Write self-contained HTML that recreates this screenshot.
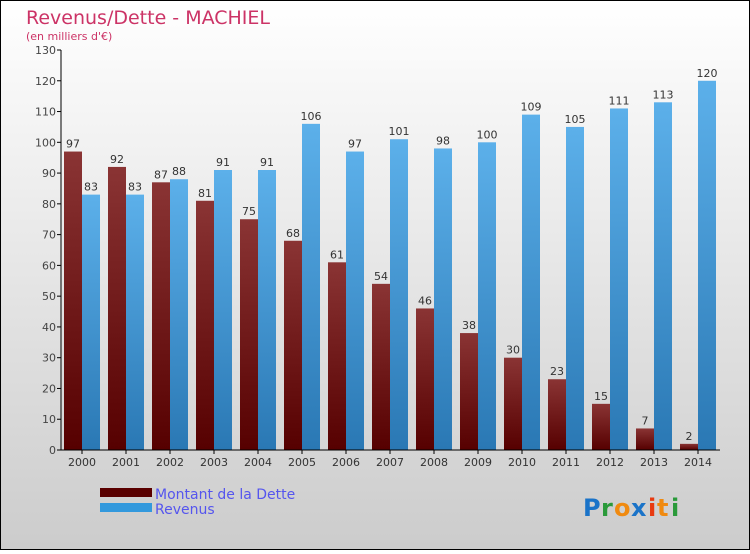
<!DOCTYPE html>
<html><head><meta charset="utf-8"><style>
body{margin:0}
#c{width:750px;height:550px;position:relative;font-family:"DejaVu Sans","Liberation Sans",sans-serif}
</style></head><body>
<div id="c">
<svg id="s" width="750" height="550" xmlns="http://www.w3.org/2000/svg">
<defs>
<linearGradient id="bg" x1="0" y1="0" x2="0" y2="1"><stop offset="0" stop-color="#ffffff"/><stop offset="1" stop-color="#cccccc"/></linearGradient>
<linearGradient id="gd" x1="0" y1="0" x2="0" y2="1"><stop offset="0" stop-color="#8a3434"/><stop offset="1" stop-color="#560000"/></linearGradient>
<linearGradient id="gr" x1="0" y1="0" x2="0" y2="1"><stop offset="0" stop-color="#5cb0ea"/><stop offset="1" stop-color="#2a78b4"/></linearGradient>
</defs>
<rect x="0.5" y="0.5" width="749" height="549" fill="url(#bg)" stroke="#000"/>
<text x="26" y="24" font-size="19" fill="#cc3366">Revenus/Dette - MACHIEL</text>
<text x="26" y="40" font-size="11" fill="#cc3366">(en milliers d'€)</text>
<g id="plot"></g>
<rect x="100" y="488" width="52" height="9" fill="#5a0000"/>
<text x="155" y="499" font-size="14" fill="#5555ee">Montant de la Dette</text>
<rect x="100" y="503" width="52" height="9" fill="#3399dd"/>
<text x="155" y="514" font-size="14" fill="#5555ee">Revenus</text>
<g font-size="24" font-weight="bold">
<text x="583" y="516" fill="#1a73c8">P</text><text x="601" y="516" fill="#2a9a3a">r</text><text x="614" y="516" fill="#f08a10">o</text><text x="631" y="516" fill="#1a73c8">x</text><text x="648" y="516" fill="#e83a10">i</text><text x="657" y="516" fill="#f08a10">t</text><text x="671" y="516" fill="#2a9a3a">i</text>
</g>
</svg>
</div>
<script>
const years=["2000","2001","2002","2003","2004","2005","2006","2007","2008","2009","2010","2011","2012","2013","2014"];
const dette=[97,92,87,81,75,68,61,54,46,38,30,23,15,7,2];
const revenus=[83,83,88,91,91,106,97,101,98,100,109,105,111,113,120];
const yTicks=[0,10,20,30,40,50,60,70,80,90,100,110,120,130];
const NS="http://www.w3.org/2000/svg";
const g=document.getElementById('plot');
const x0=61,step=44,y0=450,yTop=50,yMax=130;
const y=v=>y0-(v/yMax)*(y0-yTop);
function el(t,a,txt){const e=document.createElementNS(NS,t);for(const k in a)e.setAttribute(k,a[k]);if(txt!==undefined)e.textContent=txt;g.appendChild(e);return e;}
yTicks.forEach(t=>{
 const l=el('line',{x1:57,x2:61,y1:y(t),y2:y(t),stroke:'#000'});
 
 
 const tx=el('text',{x:56,y:y(t)+4,'text-anchor':'end','font-size':11,fill:'#444'},t);
 
 
});
years.forEach((yr,i)=>{
 const cx=x0+21+i*step;
 const b1=el('rect',{x:cx-18,y:y(dette[i]),width:18,height:y0-y(dette[i]),fill:'url(#gd)'});
 
 
 const b2=el('rect',{x:cx,y:y(revenus[i]),width:18,height:y0-y(revenus[i]),fill:'url(#gr)'});
 
 
 const v1=el('text',{x:cx-9,y:y(dette[i])-4,'text-anchor':'middle','font-size':11,fill:'#333'},dette[i]);
 
 
 const v2=el('text',{x:cx+9,y:y(revenus[i])-4,'text-anchor':'middle','font-size':11,fill:'#333'},revenus[i]);
 
 
 const xt=el('line',{x1:cx,x2:cx,y1:y0,y2:y0+4,stroke:'#000'});
 
 
 const xl=el('text',{x:cx,y:y0+16,'text-anchor':'middle','font-size':11,fill:'#333'},yr);
 
 
});
const ax=el('line',{x1:61,x2:61,y1:yTop,y2:y0,stroke:'#000'});


const bx=el('line',{x1:61,x2:720,y1:y0,y2:y0,stroke:'#000'});


</script>
</body></html>
